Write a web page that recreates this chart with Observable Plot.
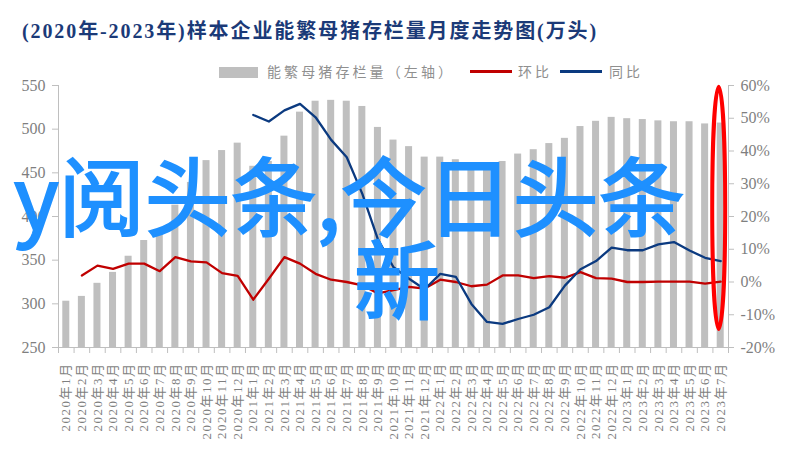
<!DOCTYPE html>
<html>
<head>
<meta charset="utf-8">
<script src="https://cdn.jsdelivr.net/npm/d3@7"></script>
<script src="https://cdn.jsdelivr.net/npm/@observablehq/plot@0.6"></script>
<style>
  body { margin: 0; background: #fff; }
  #wrap { position: relative; width: 796px; height: 461px; overflow: hidden; background: #fff; }
  #chart { position: absolute; left: 0; top: 0; }
  #title { position: absolute; left: 22px; top: 21px; font: bold 20px/20px "Liberation Serif", "Noto Sans CJK SC", serif; color: #1b3a78; letter-spacing: 1.9px; white-space: nowrap; }
  .leg { position: absolute; top: 64px; font: 14px/14px "Noto Sans CJK SC", sans-serif; color: #8f8f8f; letter-spacing: 3.1px; white-space: nowrap; }
  .sw { position: absolute; }
  .big { position: absolute; font: 86px/86px "Noto Sans CJK SC", sans-serif; color: #1E90FF; white-space: nowrap; -webkit-text-stroke: 2px #1E90FF; }
  #chart svg g[aria-label="x-axis tick label"] text { letter-spacing: 1.5px; }
</style>
</head>
<body>
<div id="wrap">
  <div id="chart"></div>
  <div id="title"></div>
  <div id="legend"></div>
  <div id="ov1" class="big"></div>
  <div id="ov2" class="big"></div>
</div>
<script>
// ---- data ----
const months = [
  "2020年1月","2020年2月","2020年3月","2020年4月","2020年5月","2020年6月","2020年7月","2020年8月","2020年9月","2020年10月","2020年11月","2020年12月",
  "2021年1月","2021年2月","2021年3月","2021年4月","2021年5月","2021年6月","2021年7月","2021年8月","2021年9月","2021年10月","2021年11月","2021年12月",
  "2022年1月","2022年2月","2022年3月","2022年4月","2022年5月","2022年6月","2022年7月","2022年8月","2022年9月","2022年10月","2022年11月","2022年12月",
  "2023年1月","2023年2月","2023年3月","2023年4月","2023年5月","2023年6月","2023年7月"
];
// 能繁母猪存栏量 (万头, left axis)
const stock = [
  303, 308.5, 323.5, 336, 354.5, 372.5, 385, 413, 439, 464, 475.5, 484,
  457.5, 463, 492, 519.5, 532, 533, 532, 526, 502, 487.5, 480, 468,
  468, 465, 459, 455, 463, 471.5, 476.5, 483.5, 489.5, 503, 509, 513.5,
  512, 511, 509.5, 508.5, 508.5, 506, 507
];
// 环比 (%, right axis)
const mom = [
  null, 2.0, 5.0, 4.0, 5.6, 5.6, 3.3, 7.6, 6.3, 6.0, 2.7, 1.9,
  -5.4, 1.0, 7.6, 5.6, 2.5, 0.7, 0.0, -1.0, -3.5, -2.5, -1.5, -2.0,
  0.7, 0.0, -1.3, -0.8, 2.0, 2.0, 1.2, 1.8, 1.3, 3.0, 1.2, 1.0,
  0.0, 0.0, 0.1, 0.1, 0.1, -0.5, 0.1
];
// 同比 (%, right axis)
const yoy = [
  null, null, null, null, null, null, null, null, null, null, null, null,
  51.0, 49.0, 52.4, 54.4, 50.3, 43.4, 38.1, 26.9, 13.0, 4.5, 1.0, -2.2,
  2.5, 1.6, -6.7, -12.2, -12.8, -11.3, -10.0, -7.7, -1.1, 3.9, 6.4, 10.5,
  9.7, 9.7, 11.5, 12.2, 9.6, 7.4, 6.4
];
const leftTicks = [250, 300, 350, 400, 450, 500, 550];
const rightTicks = [-20, -10, 0, 10, 20, 30, 40, 50, 60];

const titleText = "(2020年-2023年)样本企业能繁母猪存栏量月度走势图(万头)";
const legendStock = "能繁母猪存栏量（左轴）";
const legendMom = "环比";
const legendYoy = "同比";
const overlayLine1 = "y阅头条,今日头条";
const overlayLine2 = "新";

// ---- helpers ----
const yMin = leftTicks[0], yMax = leftTicks[leftTicks.length - 1];
const pMin = rightTicks[0], pMax = rightTicks[rightTicks.length - 1];
const toLeft = p => (p == null ? NaN : yMin + (p - pMin) * (yMax - yMin) / (pMax - pMin));
const fromLeft = v => pMin + (v - yMin) * (pMax - pMin) / (yMax - yMin);

const rows = months.map((m, i) => ({month: m, stock: stock[i], mom: mom[i], yoy: yoy[i]}));

const W = 796, H = 461, mL = 58, mR = 68, mT = 85, mB = 114;
const step = (W - mL - mR) / months.length;
const axisGray = "#BFBFBF";
const textGray = "#7f7f7f";

const chart = Plot.plot({
  width: W, height: H,
  marginLeft: mL, marginRight: mR, marginTop: mT, marginBottom: mB,
  style: {fontFamily: "'Liberation Serif', 'Noto Sans CJK SC', serif", background: "transparent", overflow: "visible"},
  x: {type: "band", domain: months, paddingInner: 0.55, paddingOuter: 0.275, round: false, label: null},
  y: {domain: [yMin, yMax], label: null},
  marks: [
    Plot.barY(rows, {x: "month", y1: yMin, y2: "stock", fill: "#BFBFBF"}),
    Plot.ruleY([yMin], {stroke: axisGray}),
    Plot.ruleX([months[0]], {dx: -step / 2, stroke: axisGray}),
    Plot.ruleX([months[months.length - 1]], {dx: step / 2, stroke: axisGray}),
    // x ticks at band boundaries
    Plot.ruleX(months, {x: d => d, y1: yMin, y2: yMin, insetBottom: -6, dx: step / 2, stroke: axisGray}),
    Plot.ruleX([months[0]], {y1: yMin, y2: yMin, insetBottom: -6, dx: -step / 2, stroke: axisGray}),
    Plot.line(rows, {x: "month", y: d => toLeft(d.mom), stroke: "#C00000", strokeWidth: 2.3}),
    Plot.line(rows, {x: "month", y: d => toLeft(d.yoy), stroke: "#0B3A80", strokeWidth: 2.3}),
    Plot.axisY(leftTicks, {anchor: "left", tickSize: 6, tickPadding: 7, stroke: axisGray, fill: textGray, fontSize: 16, label: null}),
    Plot.axisY(rightTicks.map(toLeft), {anchor: "right", tickSize: 5, tickPadding: 7, stroke: axisGray, fill: textGray, fontSize: 16, label: null,
      tickFormat: v => Math.round(fromLeft(v)) + "%"}),
    Plot.axisX({anchor: "bottom", tickSize: 0, tickPadding: 15, tickRotate: -90, fill: textGray, fontSize: 13, label: null,
      fontFamily: "'Liberation Serif', 'Noto Sans CJK SC', serif"})
  ]
});
document.getElementById("chart").appendChild(chart);

// red ellipse annotation around the latest month
{
  const xs = chart.scale("x");
  const ys = chart.scale("y");
  const cx = xs.apply(months[months.length - 1]) + xs.bandwidth / 2 - 1.5;
  const top = ys.apply(toLeft(59.5)), bottom = ys.apply(toLeft(-14.5));
  d3.select(chart).append("ellipse")
    .attr("cx", cx).attr("cy", (top + bottom) / 2)
    .attr("rx", 6.5).attr("ry", (bottom - top) / 2)
    .attr("fill", "none").attr("stroke", "#FF0000").attr("stroke-width", 4);
}

// title
document.getElementById("title").textContent = titleText;

// legend
const leg = document.getElementById("legend");
function add(html) { leg.insertAdjacentHTML("beforeend", html); }
add(`<div class="sw" style="left:219px;top:66.5px;width:39px;height:11px;background:#BFBFBF"></div>`);
add(`<div class="leg" style="left:267px">${legendStock}</div>`);
add(`<div class="sw" style="left:470px;top:70px;width:42px;height:3px;background:#C00000"></div>`);
add(`<div class="leg" style="left:518px">${legendMom}</div>`);
add(`<div class="sw" style="left:560px;top:70px;width:42px;height:3px;background:#0B3A80"></div>`);
add(`<div class="leg" style="left:609px">${legendYoy}</div>`);

// overlay text
const o1 = document.getElementById("ov1");
o1.textContent = overlayLine1; o1.style.left = "14px"; o1.style.top = "150px";
const o2 = document.getElementById("ov2");
o2.textContent = overlayLine2; o2.style.left = "354px"; o2.style.top = "233px";
</script>
</body>
</html>
